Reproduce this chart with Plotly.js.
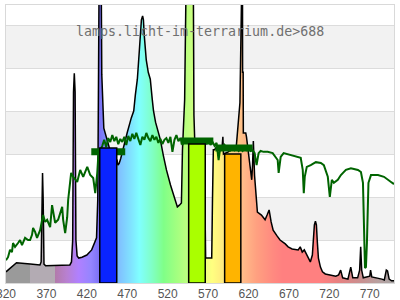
<!DOCTYPE html>
<html><head><meta charset="utf-8">
<script src="https://cdn.plot.ly/plotly-3.0.1.min.js"></script>
<style>html,body{margin:0;padding:0;background:#fff}#chart{width:400px;height:300px}</style>
</head><body><div id="chart"></div>
<script>
// Lamp spectrum (wavelength nm, relative intensity; one grid band = 1)
const lampWl = [320,325,329,333,350,362,363.5,364.5,365.2,366,367,369,
  399,401,402.5,403.5,404.5,405.5,406.5,408,410,414,420,426,430,432,433.5,434.5,435.5,437.5,438.5,441,450,456,
  457.5,458.5,460,462,465,470,475,478,480,482.5,485,486,487.5,489,490,491,493.5,496,498.5,501,502.5,505,508.5,511,514.5,518.5,523.5,527,531,532,534.5,537,
  538.3,539.5,541,542,543.5,550,551.5,552.5,553.5,560,566,567,574.5,575.5,576.5,578,580,585,587.5,588.3,589,595,605,
  609.4,610.2,612.5,612.7,613.4,613.6,616.6,617.5,619,620,622.5,624,625,626,627.5,630,631,636,640.5,643,645.5,648,650.5,655.5,659,665.5,669,674,678,681.5,684,686.5,689,693,696.5,
  699,700.3,701.5,702.8,704,705,706.5,709,711.5,715,721.5,728,731.5,734,736.5,743,746.5,749,755,757.5,758.8,760,762,767,770,771,772.5,785,788,790.5,792,794,797,800];
const lampVal = [0.26,0.35,0.42,0.47,0.44,0.42,0.49,1.93,2.56,1.93,0.44,0.40,
  0.42,0.49,1.0,4.44,4.88,4.44,1.0,0.63,0.58,0.60,0.65,0.77,0.93,1.05,1.93,4.84,8,8,4.84,3.6,3.0,2.9,
  2.85,2.74,2.78,2.9,3.15,3.5,3.84,4.0,4.37,4.74,5.42,5.81,6.12,6.21,6.12,5.77,5.19,4.9,4.74,4.26,4.0,3.74,3.49,3.33,2.98,2.63,2.28,2.05,1.81,1.77,1.81,1.86,
  3.09,3.86,4.26,5.81,8,8,8,3.9,3.3,3.0,2.0,0.58,0.58,2.0,3.1,3.1,3.15,3.1,3.2,3.4,3.0,3.05,3.2,
  4.19,8,8,4.9,4.9,3.49,3.49,3.4,3.16,3.07,2.74,2.4,2.74,3.3,2.5,1.7,1.65,1.58,1.47,1.58,1.7,1.42,1.23,1.09,1.0,0.91,0.84,0.79,0.77,0.77,0.84,0.72,0.77,0.60,0.49,
  0.65,1.0,1.35,1.44,1.35,1.0,0.58,0.37,0.26,0.21,0.19,0.16,0.19,0.30,0.12,0.09,0.37,0.12,0.12,0.3,0.84,0.3,0.12,0.14,0.16,0.3,0.14,0.09,0.07,0.3,0.28,0.09,0.05,0.05];

// Reference (sun) spectrum
const sunWl = [320,322.5,325,327.4,328.7,331.2,334.9,337.4,339.8,343.6,347.3,349.8,352.2,353.5,356,358.4,362.2,365.9,368.4,370.9,374.6,377,380.8,384.5,389.5,390.7,393.2,395.7,396.9,
  400.6,403.1,408.1,411.8,415.5,420.5,424.2,427.9,430.4,432.9,434.1,
  436.6,439.1,441.5,444.0,446.5,449.0,451.5,454.0,456.4,458.9,461.4,463.9,466.4,468.8,471.3,473.8,476.3,478.8,481.2,483.7,486.2,488.7,491.2,493.6,496.1,498.6,
  501.1,503.6,506.0,508.5,511.0,513.5,516.0,518.4,520.9,523.4,525.9,528.4,530.8,533.3,535.8,538.3,540.8,543.2,545.7,548.2,550.7,553.2,555.7,558.1,560.6,
  563.1,565.6,568.1,570.6,573.0,575.5,578.0,580.5,583.0,585.4,587.9,590.4,592.9,595.4,597.8,600.3,602.8,605.3,607.8,610.2,612.7,615.2,617.7,620.1,622.6,
  625.1,627.6,630.0,632.5,635.0,638.7,
  643.7,649.9,656.1,657.3,659.8,663.5,672.2,680.9,684.6,687.1,688.4,689.6,692.1,697,703.3,709.5,713.2,718.1,720.6,723.1,725.6,730.5,734.3,740.5,746.7,755.4,759.1,761.6,762.8,764.1,765.3,766.5,768.4,771.5,780.2,787.6,796.3,800];
const sunVal = [0.53,0.60,0.77,0.72,0.93,0.84,0.93,1.0,0.88,1.05,1.0,1.0,1.12,1.28,1.19,1.05,1.23,1.58,1.42,1.47,1.30,1.81,1.40,1.47,1.77,1.47,1.16,1.53,1.93,
  2.56,2.47,2.35,2.63,2.47,2.70,2.51,2.44,2.09,2.56,2.93,
  3.09,3.19,3.33,3.16,3.37,3.28,3.44,3.30,3.40,3.23,3.35,3.28,3.40,3.21,3.42,3.30,3.47,3.35,3.49,3.33,3.21,3.40,3.33,3.49,3.37,3.30,
  3.44,3.33,3.40,3.26,3.35,3.23,3.33,3.37,3.26,3.40,3.05,3.33,3.44,3.30,3.37,3.21,3.35,3.28,3.33,3.23,3.33,3.26,3.35,3.21,3.30,
  3.19,3.30,3.23,3.33,3.21,3.28,3.19,3.26,2.86,3.19,3.14,3.21,3.12,3.16,3.09,3.16,3.09,3.14,3.07,3.12,3.07,3.14,3.09,3.12,3.07,
  3.09,3.02,2.74,3.02,3.07,3.05,
  3.05,3.02,2.86,2.56,2.93,3.02,2.98,2.93,2.91,2.63,2.09,2.47,2.70,2.74,2.81,2.79,2.74,2.47,2.0,2.40,2.33,2.40,2.51,2.63,2.67,2.63,2.58,2.33,1.53,0.35,0.37,0.93,2.33,2.51,2.51,2.47,2.35,2.30];

// Colour bands: lamp output per band and reference level per band
const bandLo = [436, 546, 590.5];
const bandHi = [457, 566.5, 610.5];
const bandLamp = [3.14, 3.23, 3.0];
const bandColors = ['#0a24ff', '#aaff00', '#ffb400'];
const refLo = [425.5, 536, 579];
const refHi = [467.5, 576.5, 625];
const refVal = [3.05, 3.3, 3.14];

// Wavelength colour gradient for the lamp fill
const gradWl = [320,350,350.01,380,380.01,395,410,425,436,448,460,475,485,500,515,530,546,560,575,590,605,615,630,650,662,710,730,760,780,800];
const gradColor = ['#9a9a9a','#9a9a9a','#b3abb3','#b3abb3','#b27aa8','#b880d0','#b080ff','#9585ff','#7b70f5','#80a0ff','#80c0ff','#80e4ff','#80ffff','#80ffc8','#80ff88','#a0ff80','#c0ff80','#e0ff80','#ffff80','#ffe880','#ffcc88','#ffb888','#ffa080','#ff8a80','#ff8080','#ff8080','#e88080','#c89090','#b8a0a0','#a8a4a4'];

const tickVals = [320,370,420,470,520,570,620,670,720,770];
const tickText = ['320','370','420','470','520','570','620','670','720','770'];
const titleText = 'lamps.licht-im-terrarium.de&gt;688';

const X0 = 320, X1 = 800, YMAX = 6.465;
const traces = [];
traces.push({
  x: lampWl, y: lampVal, type: 'scatter', mode: 'lines', fill: 'tozeroy',
  line: {color: '#000', width: 1.5},
  fillgradient: {type: 'horizontal', start: X0, stop: X1,
    colorscale: gradWl.map((w, i) => [(w - X0) / (X1 - X0), gradColor[i]])},
  hoverinfo: 'skip'
});
traces.push({x: sunWl, y: sunVal, type: 'scatter', mode: 'lines',
  line: {color: '#006400', width: 2}, hoverinfo: 'skip'});
for (let i = 0; i < refLo.length; i++) {
  traces.push({x: [refLo[i], refHi[i]], y: [refVal[i], refVal[i]], type: 'scatter', mode: 'lines',
    line: {color: '#006400', width: 7}, hoverinfo: 'skip'});
}
for (let i = 0; i < bandLo.length; i++) {
  traces.push({x: [bandLo[i], bandLo[i], bandHi[i], bandHi[i], bandLo[i]],
    y: [0, bandLamp[i], bandLamp[i], 0, 0], type: 'scatter', mode: 'lines', fill: 'toself',
    fillcolor: bandColors[i], line: {color: '#000', width: 1.5}, hoverinfo: 'skip'});
}

const shapes = [];
for (let k = 1; k < YMAX; k += 2) {
  shapes.push({type: 'rect', xref: 'paper', yref: 'y', x0: 0, x1: 1, y0: k, y1: Math.min(k + 1, YMAX),
    fillcolor: '#f2f2f2', line: {width: 0}, layer: 'below'});
}

const layout = {
  width: 400, height: 300,
  margin: {l: 6, r: 6, t: 5, b: 17},
  paper_bgcolor: '#fff', plot_bgcolor: '#fff',
  showlegend: false,
  xaxis: {range: [X0, X1], tickvals: tickVals, ticktext: tickText, showgrid: false, zeroline: false,
    showline: true, mirror: true, linecolor: '#d9d9d9', linewidth: 1, ticks: '',
    ticklabeloverflow: 'allow', tickfont: {family: 'Liberation Sans, Arial, sans-serif', size: 12, color: '#555'}},
  yaxis: {range: [0, YMAX], dtick: 1, tick0: 0, showticklabels: false, showgrid: true, gridcolor: '#dcdcdc',
    gridwidth: 1, zeroline: false, showline: true, mirror: true, linecolor: '#d9d9d9', linewidth: 1, ticks: ''},
  shapes: shapes,
  annotations: [{text: titleText, xref: 'paper', yref: 'y', x: 0.5, y: 5.86, showarrow: false,
    xanchor: 'center', yanchor: 'middle',
    font: {family: 'DejaVu Sans Mono, monospace', size: 13.3, color: '#707070'}}]
};
Plotly.newPlot('chart', traces, layout, {staticPlot: true, displayModeBar: false});
</script></body></html>
